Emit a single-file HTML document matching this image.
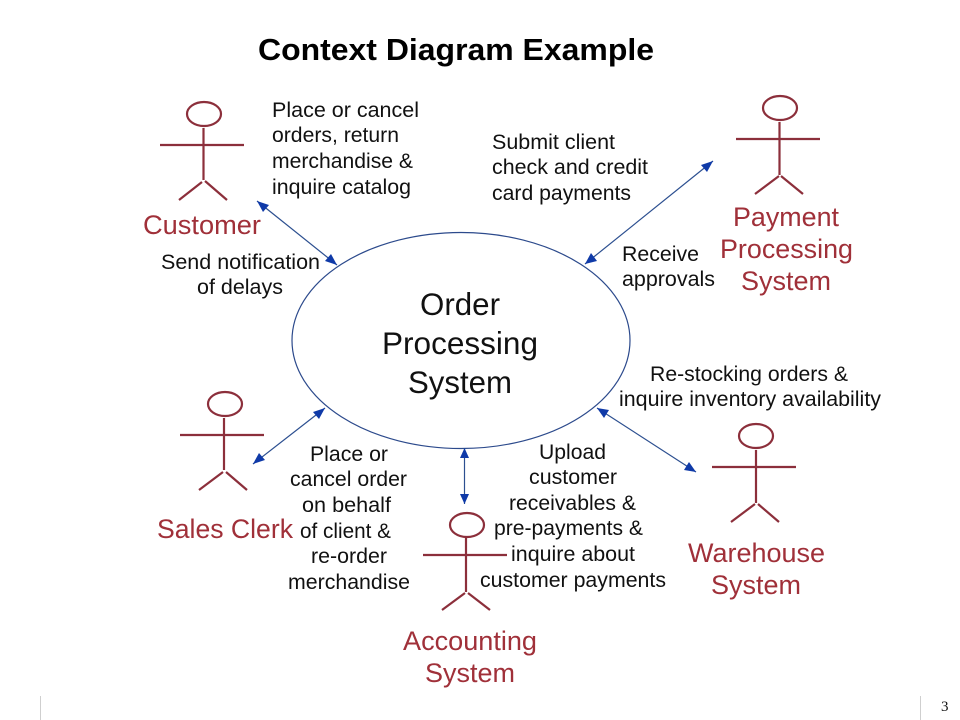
<!DOCTYPE html>
<html>
<head>
<meta charset="utf-8">
<style>
html,body{margin:0;padding:0;background:#fff;width:960px;height:720px;overflow:hidden}
svg{display:block}
text{font-family:"Liberation Sans",Arial,sans-serif}
.s{font-size:21px;fill:#111}
.r{font-size:27px;fill:#a03039}
.o{font-size:31.500px;fill:#111}
.a{fill:none;stroke:#8c2f3b;stroke-width:2.2}
.c{stroke:#2c4f90;stroke-width:1.2;fill:none}
.h{fill:#0f3aa8}
</style>
</head>
<body>
<svg width="960" height="720" viewBox="0 0 960 720" xmlns="http://www.w3.org/2000/svg">
<rect width="960" height="720" fill="#fff"/>

<text x="258" y="60" font-size="31" font-weight="bold" fill="#000" textLength="396" lengthAdjust="spacingAndGlyphs">Context Diagram Example</text>

<ellipse cx="461" cy="340.500" rx="169" ry="108" fill="none" stroke="#2c4a8c" stroke-width="1.200"/>

<!-- connectors -->
<line class="c" x1="257" y1="201" x2="337" y2="265"/>
<polygon class="h" points="257,201 269,205 263,212"/>
<polygon class="h" points="337,265 325,261 331,254"/>
<line class="c" x1="713" y1="161" x2="585" y2="264"/>
<polygon class="h" points="713,161 707,172 701,165"/>
<polygon class="h" points="585,264 591,253 597,261"/>
<line class="c" x1="253" y1="464" x2="325" y2="408"/>
<polygon class="h" points="253,464 259,453 265,460"/>
<polygon class="h" points="325,408 319,419 313,412"/>
<line class="c" x1="464.500" y1="448" x2="464.500" y2="504"/>
<polygon class="h" points="464.500,448 469,458 460,458"/>
<polygon class="h" points="464.500,504 469,494 460,494"/>
<line class="c" x1="597" y1="408" x2="696" y2="472"/>
<polygon class="h" points="597,408 609,410 604,418"/>
<polygon class="h" points="696,472 684,470 689,462"/>

<!-- actors -->
<g class="a">
<ellipse cx="204" cy="114" rx="17" ry="12"/>
<path d="M203.500 128V180M160 145H244M202 182L179 200M205 181L227 200"/>
<ellipse cx="780" cy="108" rx="17" ry="12"/>
<path d="M779.500 122V175M736 139H820M779 176L755 194M781 176L803 194"/>
<ellipse cx="225" cy="404" rx="17" ry="12"/>
<path d="M224 418V470M180 435H264M223 472L199 490M226 472L247 490"/>
<ellipse cx="756" cy="436" rx="17" ry="12"/>
<path d="M756 450V503M712 467H796M755 504L731 522M758 504L779 522"/>
<ellipse cx="467" cy="525" rx="17" ry="12"/>
<path d="M466 538V592M423 555H507M465 593L442 610M468 593L490 610"/>
</g>

<!-- actor labels -->
<text class="r" x="143" y="234" textLength="118" lengthAdjust="spacingAndGlyphs">Customer</text>
<text class="r" x="733" y="226" textLength="106" lengthAdjust="spacingAndGlyphs">Payment</text>
<text class="r" x="720" y="258" textLength="133" lengthAdjust="spacingAndGlyphs">Processing</text>
<text class="r" x="741" y="290" textLength="90" lengthAdjust="spacingAndGlyphs">System</text>
<text class="r" x="157" y="538" textLength="136" lengthAdjust="spacingAndGlyphs">Sales Clerk</text>
<text class="r" x="688" y="562" textLength="137" lengthAdjust="spacingAndGlyphs">Warehouse</text>
<text class="r" x="711" y="594" textLength="90" lengthAdjust="spacingAndGlyphs">System</text>
<text class="r" x="403" y="650" textLength="134" lengthAdjust="spacingAndGlyphs">Accounting</text>
<text class="r" x="425" y="682" textLength="90" lengthAdjust="spacingAndGlyphs">System</text>

<!-- center -->
<text class="o" x="420" y="315" textLength="80" lengthAdjust="spacingAndGlyphs">Order</text>
<text class="o" x="382" y="354" textLength="156" lengthAdjust="spacingAndGlyphs">Processing</text>
<text class="o" x="408" y="393" textLength="104" lengthAdjust="spacingAndGlyphs">System</text>

<!-- flow labels -->
<text class="s" x="272" y="117" textLength="147" lengthAdjust="spacingAndGlyphs">Place or cancel</text>
<text class="s" x="272" y="142" textLength="127" lengthAdjust="spacingAndGlyphs">orders, return</text>
<text class="s" x="272" y="168" textLength="141" lengthAdjust="spacingAndGlyphs">merchandise &amp;</text>
<text class="s" x="272" y="194" textLength="139" lengthAdjust="spacingAndGlyphs">inquire catalog</text>

<text class="s" x="492" y="149" textLength="123" lengthAdjust="spacingAndGlyphs">Submit client</text>
<text class="s" x="492" y="174" textLength="156" lengthAdjust="spacingAndGlyphs">check and credit</text>
<text class="s" x="492" y="200" textLength="139" lengthAdjust="spacingAndGlyphs">card payments</text>

<text class="s" x="622" y="261" textLength="77" lengthAdjust="spacingAndGlyphs">Receive</text>
<text class="s" x="622" y="286" textLength="93" lengthAdjust="spacingAndGlyphs">approvals</text>

<text class="s" x="161" y="269" textLength="159" lengthAdjust="spacingAndGlyphs">Send notification</text>
<text class="s" x="197" y="294" textLength="86" lengthAdjust="spacingAndGlyphs">of delays</text>

<text class="s" x="650" y="381" textLength="198" lengthAdjust="spacingAndGlyphs">Re-stocking orders &amp;</text>
<text class="s" x="619" y="406" textLength="262" lengthAdjust="spacingAndGlyphs">inquire inventory availability</text>

<text class="s" x="310" y="461" textLength="78" lengthAdjust="spacingAndGlyphs">Place or</text>
<text class="s" x="290" y="486" textLength="117" lengthAdjust="spacingAndGlyphs">cancel order</text>
<text class="s" x="302" y="512" textLength="89" lengthAdjust="spacingAndGlyphs">on behalf</text>
<text class="s" x="300" y="538" textLength="91" lengthAdjust="spacingAndGlyphs">of client &amp;</text>
<text class="s" x="311" y="563" textLength="76" lengthAdjust="spacingAndGlyphs">re-order</text>
<text class="s" x="288" y="589" textLength="122" lengthAdjust="spacingAndGlyphs">merchandise</text>

<text class="s" x="539" y="459" textLength="67" lengthAdjust="spacingAndGlyphs">Upload</text>
<text class="s" x="529" y="484" textLength="88" lengthAdjust="spacingAndGlyphs">customer</text>
<text class="s" x="509" y="510" textLength="127" lengthAdjust="spacingAndGlyphs">receivables &amp;</text>
<text class="s" x="494" y="535" textLength="149" lengthAdjust="spacingAndGlyphs">pre-payments &amp;</text>
<text class="s" x="511" y="561" textLength="124" lengthAdjust="spacingAndGlyphs">inquire about</text>
<text class="s" x="480" y="587" textLength="186" lengthAdjust="spacingAndGlyphs">customer payments</text>

<!-- footer -->
<line x1="40.500" y1="696" x2="40.500" y2="720" stroke="#cfcfcf" stroke-width="1"/>
<line x1="920.500" y1="696" x2="920.500" y2="720" stroke="#cfcfcf" stroke-width="1"/>
<text x="941" y="711" font-size="15" fill="#111" style="font-family:'Liberation Serif',serif">3</text>
</svg>
</body>
</html>
